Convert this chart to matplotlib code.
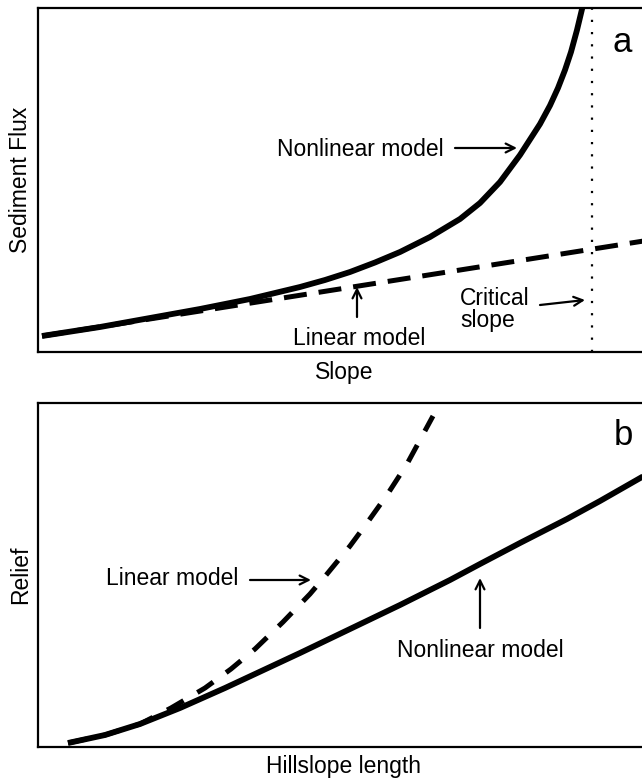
import matplotlib
matplotlib.use('Agg')
import matplotlib.pyplot as plt

plt.rcParams['font.family'] = ['Liberation Sans', 'DejaVu Sans']

# ---------------- Panel a data (arbitrary units) ----------------
slope_nonlinear = [4, 62, 112, 162, 212, 262, 287, 312, 337, 362, 392, 422, 442, 462,
                   482, 502, 512, 520, 527, 533, 539, 545, 549]
flux_nonlinear = [16, 25, 34, 43, 53, 65, 72, 80, 89.5, 100, 115, 133, 149, 170,
                  197, 228, 246.5, 264, 282, 300, 322, 347, 367]
slope_linear = [4, 612]
flux_linear = [16, 112]
critical_slope = 554

# ---------------- Panel b data (arbitrary units) ----------------
length_nonlinear = [30, 67, 102, 142, 187, 232, 262, 312, 362, 412, 442, 482, 529, 562, 604, 612]
relief_nonlinear = [4, 12, 23, 39, 59, 80, 94, 118, 142, 167, 183, 204, 228, 246, 270, 275]
length_linear = [30, 67, 102, 133, 167, 193, 217, 245, 272, 289, 312, 329, 349, 369, 395]
relief_linear = [4, 12, 23, 39, 59, 78, 98, 125, 153, 173, 201, 224, 252, 283, 331]

FS = 16.5
W, H = 642, 780
fig = plt.figure(figsize=(W / 100, H / 100), dpi=100)

ax_a = fig.add_axes([38 / W, (H - 352) / H, 612 / W, 344 / H])
ax_b = fig.add_axes([38 / W, 33 / H, 612 / W, 344 / H])

for ax in (ax_a, ax_b):
    ax.set_xlim(0, 612)
    ax.set_ylim(0, 344)
    ax.set_xticks([])
    ax.set_yticks([])
    for s in ax.spines.values():
        s.set_linewidth(1.6)
        s.set_color('black')

arrow_kw = dict(arrowstyle='->', lw=1.6, color='black', mutation_scale=16,
                shrinkA=0, shrinkB=0)

# ---- Panel a ----
ax_a.plot(slope_linear, flux_linear, color='black', lw=3.6,
          dashes=(4.6, 2.4), dash_capstyle='butt')
ax_a.plot(slope_nonlinear, flux_nonlinear, color='black', lw=4.2,
          solid_capstyle='butt', solid_joinstyle='round')
ax_a.axvline(critical_slope, color='black', lw=1.6, dashes=(1, 4.5))

ax_a.text(239, 196, 'Nonlinear model', fontsize=FS, ha='left', va='baseline')
ax_a.annotate('', xy=(479, 204), xytext=(417, 204), arrowprops=arrow_kw)
ax_a.text(255, 7, 'Linear model', fontsize=FS, ha='left', va='baseline')
ax_a.annotate('', xy=(319, 65), xytext=(319, 35), arrowprops=arrow_kw)
ax_a.text(422, 47, 'Critical', fontsize=FS, ha='left', va='baseline')
ax_a.text(422, 25, 'slope', fontsize=FS, ha='left', va='baseline')
ax_a.annotate('', xy=(547, 52), xytext=(502, 47), arrowprops=arrow_kw)
ax_a.text(584, 300, 'a', fontsize=25, ha='center', va='baseline')

ax_a.set_xlabel('Slope', fontsize=FS, labelpad=6.5)
ax_a.set_ylabel('Sediment Flux', fontsize=FS, labelpad=4.5)

# ---- Panel b ----
ax_b.plot(length_linear, relief_linear, color='black', lw=3.6,
          dashes=(3.8, 3.2), dash_capstyle='butt')
ax_b.plot(length_nonlinear, relief_nonlinear, color='black', lw=4.2,
          solid_capstyle='butt', solid_joinstyle='round')

ax_b.text(68, 162, 'Linear model', fontsize=FS, ha='left', va='baseline')
ax_b.annotate('', xy=(273, 167), xytext=(212, 167), arrowprops=arrow_kw)
ax_b.text(359, 90, 'Nonlinear model', fontsize=FS, ha='left', va='baseline')
ax_b.annotate('', xy=(442, 169), xytext=(442, 119), arrowprops=arrow_kw)
ax_b.text(585, 302, 'b', fontsize=25, ha='center', va='baseline')

ax_b.set_xlabel('Hillslope length', fontsize=FS, labelpad=6)
ax_b.set_ylabel('Relief', fontsize=FS, labelpad=4.5)

fig.savefig('out.png', dpi=100)
